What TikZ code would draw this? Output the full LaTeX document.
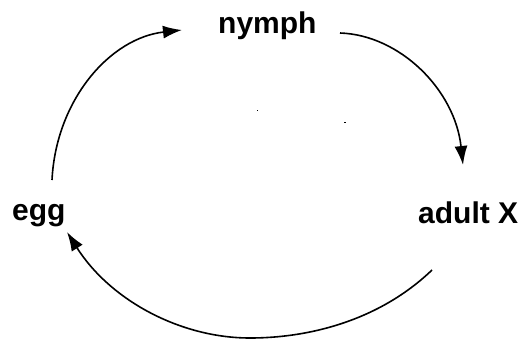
\documentclass[tikz,border=0pt]{standalone}
\usepackage{fontspec}
\setmainfont{Liberation Sans}
\usetikzlibrary{arrows.meta}
\begin{document}
\begin{tikzpicture}[x=1pt,y=-1pt,
  stage/.style={inner sep=0pt,anchor=base west,font=\fontsize{30}{32}\selectfont\bfseries},
  arr/.style={line width=1.6pt,-{Latex[length=19pt,width=13pt]}}]
\useasboundingbox (0,0) rectangle (522,340);
\node[stage] (nymph) at (218,33) {nymph};
\node[stage] (adult) at (418,223) {adult X};
\node[stage] (egg) at (12,220) {egg};
\coordinate (a1s) at (52,180);
\coordinate (a1e) at (182,30);
\coordinate (a2s) at (340,33);
\coordinate (a2e) at (463,165);
\coordinate (a3s) at (432,270);
\coordinate (a3m) at (250,338);
\coordinate (a3e) at (67,232);
\draw[arr] (a1s) .. controls (56,100) and (110,38) .. (a1e);
\draw[arr] (a2s) .. controls (400,35) and (455,90) .. (a2e);
\draw[arr] (a3s) .. controls (380,320) and (310,338) .. (a3m)
  .. controls (180,338) and (110,300) .. (a3e);
\fill (256.5,109.5) rectangle (257.5,111);
\fill (344,121.5) rectangle (346,122.5);
\end{tikzpicture}
\end{document}
